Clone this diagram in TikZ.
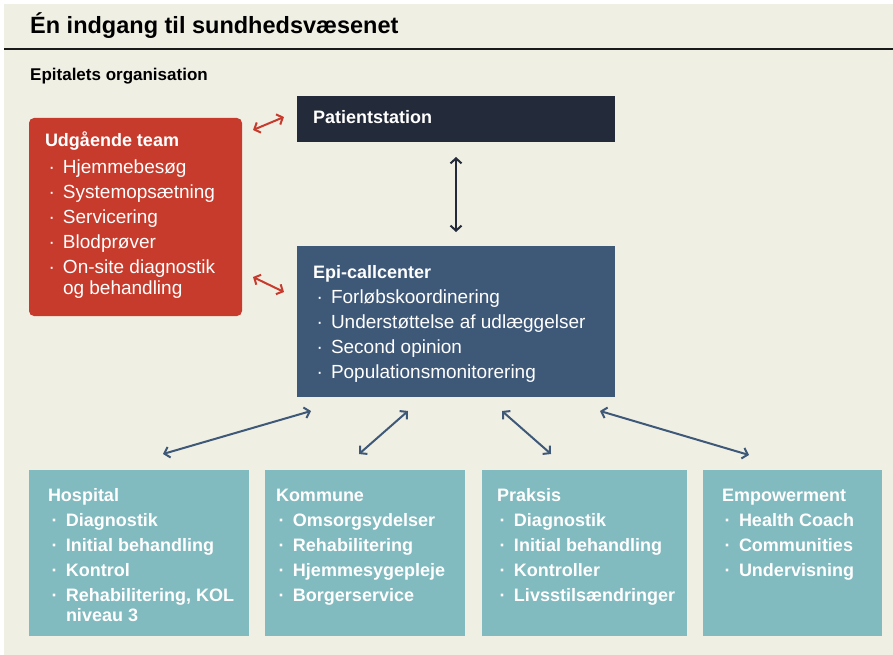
\documentclass[tikz,border=0pt]{standalone}
\usepackage{fontspec}
\setmainfont{Liberation Sans}
\usetikzlibrary{arrows.meta,calc}
\definecolor{cream}{HTML}{F0EFE4}
\definecolor{navybox}{HTML}{232A39}
\definecolor{redbox}{HTML}{C63B2C}
\definecolor{bluebox}{HTML}{3E5878}
\definecolor{tealbox}{HTML}{81BABF}
\definecolor{inkline}{HTML}{1A1A1A}
\begin{document}
\begin{tikzpicture}[x=1pt,y=-1pt,
  box/.style={rectangle, inner sep=0pt, outer sep=0pt, anchor=north west},
  hdr/.style={anchor=base west, inner sep=0pt, outer sep=0pt, text=white, font=\bfseries\fontsize{18}{20}\selectfont},
  ritem/.style={anchor=base west, inner sep=0pt, outer sep=0pt, text=white, font=\fontsize{19}{21}\selectfont},
  bitem/.style={anchor=base west, inner sep=0pt, outer sep=0pt, text=white, font=\bfseries\fontsize{18}{20}\selectfont},
  link/.style={line width=2pt, {Straight Barb[length=5pt,width=11pt]}-{Straight Barb[length=5pt,width=11pt]}},
]
\useasboundingbox (0,0) rectangle (893,655);
\fill[cream] (4,4) rectangle (893,655);
\draw[line width=2.5pt, inkline] (4,49) -- (893,49);
\node[anchor=base west, inner sep=0pt, text=black, font=\bfseries\fontsize{23.5}{26}\selectfont] (title) at (30,34) {Én indgang til sundhedsvæsenet};
\node[anchor=base west, inner sep=0pt, text=black, font=\bfseries\fontsize{17}{20}\selectfont] (sub) at (30,81) {Epitalets organisation};

% boxes
\node[box, fill=navybox, minimum width=318pt, minimum height=46pt] (ps) at (297,96) {};
\node[box, fill=redbox, rounded corners=5pt, minimum width=213pt, minimum height=198pt] (udg) at (29,118) {};
\node[box, fill=bluebox, minimum width=318pt, minimum height=151pt] (epi) at (297,246) {};
\node[box, fill=tealbox, minimum width=220pt, minimum height=166pt] (hosp) at (29,470) {};
\node[box, fill=tealbox, minimum width=200pt, minimum height=166pt] (kom) at (265,470) {};
\node[box, fill=tealbox, minimum width=205pt, minimum height=166pt] (prak) at (482,470) {};
\node[box, fill=tealbox, minimum width=179pt, minimum height=166pt] (emp) at (703,470) {};

% Patientstation
\node[hdr] (pst) at (313,124) {Patientstation};

% Udgaaende team
\node[hdr] (udgh) at (45,147) {Udgående team};
\foreach \t [count=\i from 0] in {Hjemmebesøg, Systemopsætning, Servicering, Blodprøver, On-site diagnostik}
  \node[ritem] (udg\i) at (48.5,173+25.2*\i) {\makebox[14.5pt][l]{·}\t};
\node[ritem] (udg5) at (63,294) {og behandling};

% Epi-callcenter
\node[hdr] (epih) at (313,278) {Epi-callcenter};
\foreach \t [count=\i from 0] in {Forløbskoordinering, Understøttelse af udlæggelser, Second opinion, Populationsmonitorering}
  \node[ritem] (epi\i) at (316.5,303+25*\i) {\makebox[14.5pt][l]{·}\t};

% Hospital
\node[hdr] (hosph) at (48,501) {Hospital};
\foreach \t [count=\i from 0] in {Diagnostik, Initial behandling, Kontrol, {Rehabilitering, KOL}}
  \node[bitem] (hosp\i) at (51.5,526+25*\i) {\makebox[14.5pt][l]{·}\t};
\node[bitem] (hosp4) at (66,621) {niveau 3};

% Kommune
\node[hdr] (komh) at (276,501) {Kommune};
\foreach \t [count=\i from 0] in {Omsorgsydelser, Rehabilitering, Hjemmesygepleje, Borgerservice}
  \node[bitem] (kom\i) at (278.5,526+25*\i) {\makebox[14.5pt][l]{·}\t};

% Praksis
\node[hdr] (prakh) at (497,501) {Praksis};
\foreach \t [count=\i from 0] in {Diagnostik, Initial behandling, Kontroller, Livsstilsændringer}
  \node[bitem] (prak\i) at (499.5,526+25*\i) {\makebox[14.5pt][l]{·}\t};

% Empowerment
\node[hdr] (emph) at (722,501) {Empowerment};
\foreach \t [count=\i from 0] in {Health Coach, Communities, Undervisning}
  \node[bitem] (emp\i) at (724.5,526+25*\i) {\makebox[14.5pt][l]{·}\t};

% arrow end points, placed relative to the boxes
\coordinate (r1a) at ($(udg.north east)+(11,12)$);
\coordinate (r1b) at ($(ps.west)+(-13,-2)$);
\coordinate (r2a) at ($(udg.north east)+(11,159)$);
\coordinate (r2b) at ($(epi.north west)+(-13,46)$);
\coordinate (b1a) at ($(epi.south west)+(14,14)$);
\coordinate (b1b) at ($(hosp.north west)+(134,-16)$);
\coordinate (b2a) at ($(epi.south west)+(111,14)$);
\coordinate (b2b) at ($(kom.north west)+(94,-16)$);
\coordinate (b3a) at ($(epi.south west)+(205,14)$);
\coordinate (b3b) at ($(prak.north west)+(69,-16)$);
\coordinate (b4a) at ($(epi.south west)+(303,14)$);
\coordinate (b4b) at ($(emp.north west)+(46,-15)$);

% connectors
\draw[link, redbox] (r1a) -- (r1b);
\draw[link, redbox] (r2a) -- (r2b);
\draw[link, navybox, shorten <=15pt, shorten >=14pt] (ps.south) -- (epi.north);
\draw[link, bluebox] (b1a) -- (b1b);
\draw[link, bluebox] (b2a) -- (b2b);
\draw[link, bluebox] (b3a) -- (b3b);
\draw[link, bluebox] (b4a) -- (b4b);
\end{tikzpicture}
\end{document}
